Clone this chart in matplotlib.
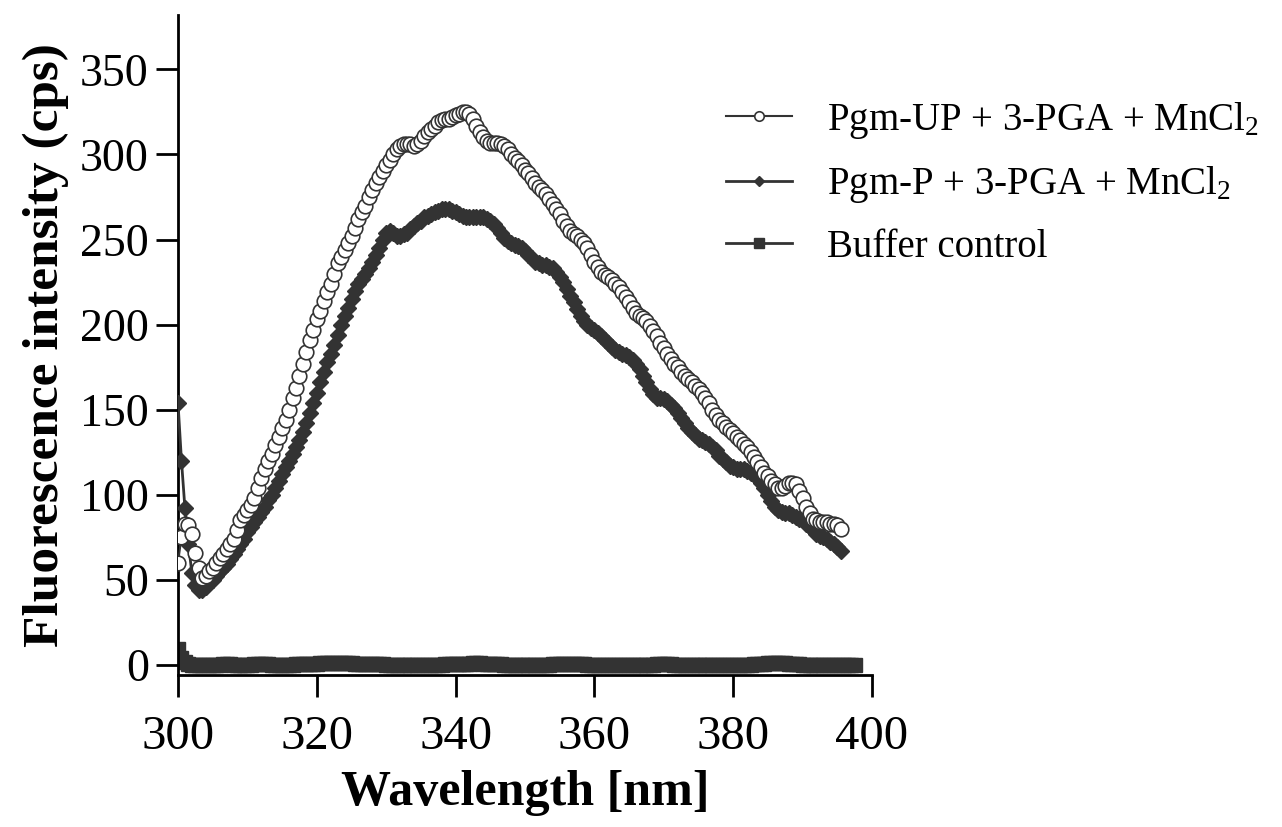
# Fluorescence emission spectra: Pgm-UP vs Pgm-P (+3-PGA, MnCl2) and buffer control
import numpy as np
import matplotlib
matplotlib.use("Agg")
import matplotlib.pyplot as plt

plt.rcParams['font.family'] = ['Liberation Serif', 'DejaVu Serif']
plt.rcParams['mathtext.fontset'] = 'custom'
plt.rcParams['mathtext.rm'] = 'Liberation Serif'
plt.rcParams['mathtext.it'] = 'Liberation Serif:italic'
plt.rcParams['mathtext.bf'] = 'Liberation Serif:bold'

# emission wavelength, 0.5 nm steps
wl = np.arange(300, 396, 0.5)          # 300 .. 395.5
wl_buffer = np.arange(300, 398, 0.5)   # 300 .. 397.5

# Pgm-UP + 3-PGA + MnCl2 (cps), one row = 5 nm
pgm_up = [
    60, 75, 83, 82, 77, 66, 57, 51, 52, 55,
    57, 60, 63, 65, 68, 71, 74, 79, 85, 88,
    91, 94, 98, 104, 110, 115, 120, 124, 129, 134,
    139, 144, 150, 157, 163, 170, 177, 184, 191, 197,
    203, 208, 214, 219, 224, 230, 236, 240, 244, 248,
    252, 257, 262, 266, 270, 275, 279, 283, 287, 290,
    294, 297, 300, 303, 305, 306, 306, 306, 305, 306,
    308, 311, 313, 315, 317, 319, 320, 321, 321, 322,
    323, 324, 325, 325, 324, 321, 317, 313, 310, 308,
    307, 307, 307, 306, 305, 303, 300, 298, 296, 294,
    291, 289, 286, 283, 281, 279, 277, 274, 271, 268,
    265, 261, 258, 255, 253, 252, 250, 248, 245, 241,
    237, 234, 231, 229, 228, 226, 224, 222, 219, 216,
    213, 210, 207, 205, 204, 202, 199, 196, 193, 189,
    186, 183, 180, 177, 175, 172, 170, 168, 166, 164,
    162, 160, 157, 154, 150, 147, 144, 142, 140, 138,
    136, 134, 132, 130, 128, 125, 122, 119, 116, 113,
    111, 108, 106, 104, 104, 105, 107, 107, 106, 102,
    98, 93, 89, 86, 85, 84, 84, 84, 83, 83,
    82, 80,
]

# Pgm-P + 3-PGA + MnCl2 (cps)
pgm_p = [
    154, 120, 92, 71, 54, 47, 44, 44, 46, 48,
    50, 52, 55, 57, 59, 62, 65, 68, 71, 74,
    78, 81, 84, 87, 90, 93, 97, 100, 104, 108,
    112, 116, 120, 124, 128, 132, 137, 142, 148, 154,
    160, 166, 172, 178, 183, 188, 194, 200, 205, 210,
    215, 220, 224, 227, 230, 233, 237, 241, 245, 250,
    254, 255, 254, 252, 252, 253, 254, 256, 258, 260,
    261, 263, 264, 265, 266, 267, 268, 268, 268, 267,
    266, 265, 264, 263, 263, 263, 263, 263, 263, 262,
    261, 259, 257, 254, 251, 249, 248, 247, 246, 245,
    243, 241, 239, 237, 236, 235, 235, 234, 233, 231,
    228, 225, 221, 217, 213, 209, 205, 202, 200, 198,
    197, 195, 193, 191, 189, 187, 185, 184, 183, 182,
    181, 179, 177, 174, 170, 166, 162, 159, 157, 157,
    156, 155, 153, 151, 148, 145, 142, 139, 137, 135,
    133, 132, 131, 130, 128, 126, 123, 121, 119, 117,
    116, 115, 115, 115, 114, 113, 112, 110, 107, 104,
    100, 96, 93, 91, 90, 89, 89, 88, 87, 86,
    85, 83, 81, 79, 77, 76, 75, 74, 72, 71,
    69, 67,
]

# buffer control (cps)
buffer_ctrl = [
    9, 4, 1.5, 0.5, 0, 0, 0, 0, 0, 0,
    0, 0, 0, 0.2, 0.2, 0.2, 0, 0, 0, 0,
    0, 0, 0.2, 0.3, 0.3, 0.3, 0.2, 0, 0, 0,
    0, 0, 0, 0, 0.2, 0.3, 0.4, 0.5, 0.5, 0.6,
    0.7, 0.8, 0.8, 0.9, 0.9, 1.0, 1.0, 1.0, 0.9, 0.8,
    0.8, 0.7, 0.6, 0.5, 0.4, 0.3, 0.3, 0.2, 0.2, 0.2,
    0.1, 0, 0, 0, 0, 0, 0, 0, 0, 0,
    0, 0, 0, 0, 0, 0, 0.1, 0.2, 0.3, 0.4,
    0.5, 0.6, 0.6, 0.7, 0.7, 0.8, 0.8, 0.8, 0.7, 0.6,
    0.5, 0.4, 0.3, 0.2, 0.1, 0, 0, 0, 0, 0,
    0, 0, 0, 0, 0, 0, 0, 0.1, 0.2, 0.3,
    0.4, 0.5, 0.5, 0.5, 0.5, 0.4, 0.3, 0.2, 0.1, 0,
    0, 0, 0, 0, 0, 0, 0, 0, 0, 0,
    0, 0, 0, 0, 0, 0, 0, 0.1, 0.2, 0.3,
    0.3, 0.3, 0.2, 0.1, 0, 0, 0, 0, 0, 0,
    0, 0, 0, 0, 0, 0, 0, 0, 0, 0,
    0, 0, 0, 0, 0, 0.1, 0.2, 0.4, 0.5, 0.7,
    0.8, 0.9, 1.0, 1.0, 0.9, 0.8, 0.6, 0.4, 0.3, 0.2,
    0.1, 0, 0, 0, 0, 0, 0, 0, 0, 0,
    0, 0, 0, 0, 0, 0,
]

dark = '#333333'

fig = plt.figure(figsize=(12.82, 8.27), dpi=100)
ax = fig.add_axes([178 / 1282, 1 - 675 / 827, (872 - 178) / 1282, (675 - 15) / 827])

ax.plot(wl_buffer, buffer_ctrl, color=dark, lw=2, marker='s', ms=10.5,
        mfc=dark, mec=dark, label='Buffer control', zorder=2)
ax.plot(wl, pgm_p, color=dark, lw=2, marker='D', ms=8,
        mfc=dark, mec=dark, label=r'Pgm-P + 3-PGA + MnCl$_2$', zorder=3)
ax.plot(wl, pgm_up, color=dark, lw=1.5, marker='o', ms=10.5,
        mfc='white', mec=dark, mew=1.2, label=r'Pgm-UP + 3-PGA + MnCl$_2$', zorder=4)

ax.set_xlim(300, 400)
ax.set_ylim(-6, 382)
ax.set_xticks(np.arange(300, 401, 20))
ax.set_yticks(np.arange(0, 351, 50))

for s in ['top', 'right']:
    ax.spines[s].set_visible(False)
for s in ['left', 'bottom']:
    ax.spines[s].set_linewidth(2)
ax.tick_params(direction='out', length=16, width=2, color='black')
ax.tick_params(axis='x', pad=13, labelsize=35)
ax.tick_params(axis='y', pad=5, labelsize=33)

ax.set_xlabel('Wavelength [nm]', fontsize=36, fontweight='bold', labelpad=8)
ax.set_ylabel('Fluorescence intensity (cps)', fontsize=37, fontweight='bold', labelpad=8)

handles, labels = ax.get_legend_handles_labels()
order = [2, 1, 0]
ax.legend([handles[i] for i in order], [labels[i] for i in order],
          loc='upper left', bbox_to_anchor=(726 / 1282, 1 - 100 / 827),
          bbox_transform=fig.transFigure, frameon=False, fontsize=28,
          handlelength=1.7, handletextpad=0.9, labelspacing=0.6,
          borderpad=0, borderaxespad=0, markerscale=0.65)

fig.savefig('out.png', dpi=100)
